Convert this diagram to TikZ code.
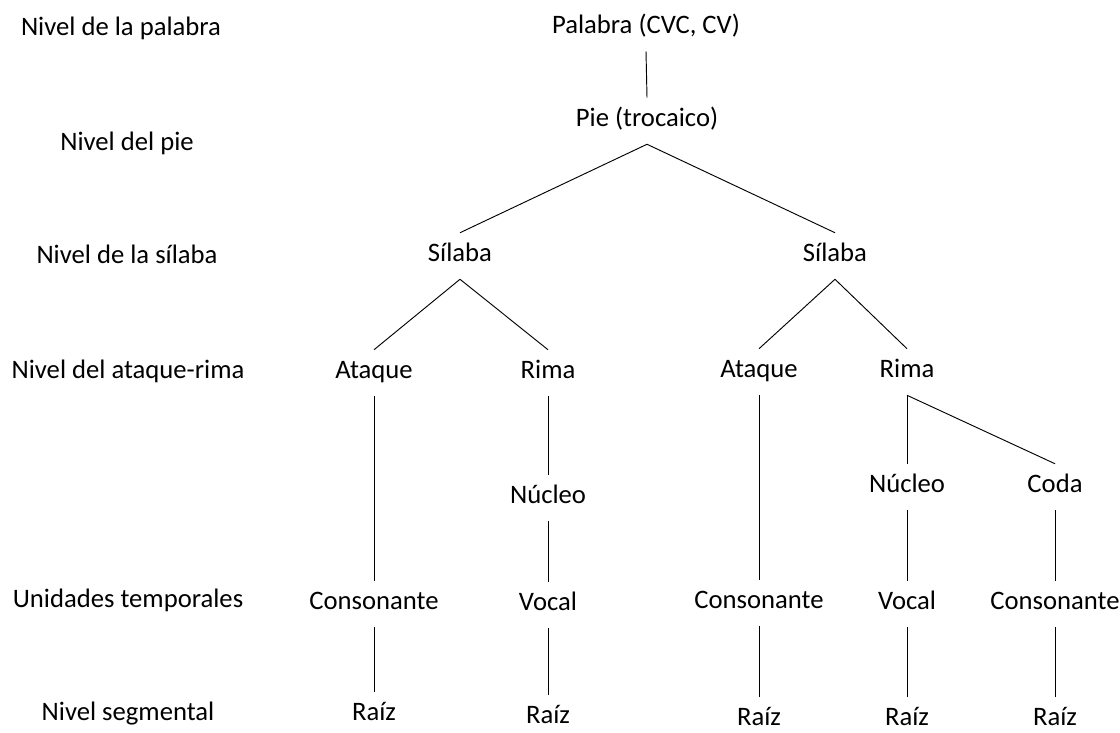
\documentclass[tikz,border=0pt]{standalone}
\usepackage{fontspec}
\setmainfont{Carlito}
\begin{document}
\begin{tikzpicture}[x=0.75pt,y=-0.75pt,
  lbl/.style={font=\fontsize{20}{24}\selectfont, inner sep=0pt, text height=0.75em, text depth=0pt, minimum height=34.5pt},
  edge/.style={draw=black, line width=0.7pt}]
\useasboundingbox (0,0) rectangle (1120,732);
% level labels
\node[lbl] (lpal) at (121,30) {Nivel de la palabra};
\node[lbl] (lpie) at (127,145) {Nivel del pie};
\node[lbl] (lsil) at (127,258) {Nivel de la sílaba};
\node[lbl] (lar) at (128,373) {Nivel del ataque-rima};
\node[lbl] (lut) at (128,602) {Unidades temporales};
\node[lbl] (lseg) at (128,715) {Nivel segmental};
% tree
\node[lbl] (pal) at (646,28) {Palabra (CVC, CV)};
\node[lbl] (pie) at (647,121) {Pie (trocaico)};
\node[lbl] (silL) at (460,256) {Sílaba};
\node[lbl] (silR) at (835,256) {Sílaba};
\node[lbl] (ataL) at (374,373) {Ataque};
\node[lbl] (rimL) at (548,373) {Rima};
\node[lbl] (ataR) at (759,372) {Ataque};
\node[lbl] (rimR) at (907,372) {Rima};
\node[lbl] (nucL) at (548,498) {Núcleo};
\node[lbl] (nucR) at (907,487) {Núcleo};
\node[lbl] (coda) at (1055,487) {Coda};
\node[lbl] (conL) at (374,604) {Consonante};
\node[lbl] (vocL) at (548,605) {Vocal};
\node[lbl] (conR) at (759,603) {Consonante};
\node[lbl] (vocR) at (907,604) {Vocal};
\node[lbl] (conR2) at (1055,604) {Consonante};
\node[lbl] (raL1) at (374,715) {Raíz};
\node[lbl] (raL2) at (548,718) {Raíz};
\node[lbl] (raR1) at (759,720) {Raíz};
\node[lbl] (raR2) at (907,720) {Raíz};
\node[lbl] (raR3) at (1055,720) {Raíz};
% connectors
\draw[edge] (pal.south) -- (pie.north);
\draw[edge] (pie.south) -- (silL.north);
\draw[edge] (pie.south) -- (silR.north);
\draw[edge] (silL.south) -- (ataL.north);
\draw[edge] (silL.south) -- (rimL.north);
\draw[edge] (silR.south) -- (ataR.north);
\draw[edge] (silR.south) -- (rimR.north);
\draw[edge] (ataL.south) -- (conL.north);
\draw[edge] (rimL.south) -- (nucL.north);
\draw[edge] (nucL.south) -- (vocL.north);
\draw[edge] (ataR.south) -- (conR.north);
\draw[edge] (rimR.south) -- (nucR.north);
\draw[edge] (rimR.south) -- (coda.north);
\draw[edge] (nucR.south) -- (vocR.north);
\draw[edge] (coda.south) -- (conR2.north);
\draw[edge] (conL.south) -- (raL1.north);
\draw[edge] (vocL.south) -- (raL2.north);
\draw[edge] (conR.south) -- (raR1.north);
\draw[edge] (vocR.south) -- (raR2.north);
\draw[edge] (conR2.south) -- (raR3.north);
\end{tikzpicture}
\end{document}
